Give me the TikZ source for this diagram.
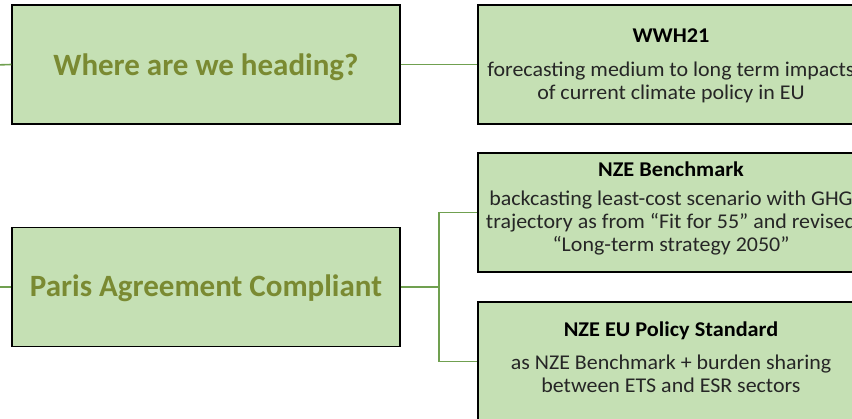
\documentclass[tikz,border=0pt]{standalone}
\usepackage{fontspec}
\setmainfont{Carlito}
\newfontfamily\wideface[FakeStretch=1.045]{Carlito}
\newfontfamily\widebold[FakeStretch=1.06]{Carlito Bold}
\definecolor{boxfill}{RGB}{197,224,180}
\definecolor{olive}{RGB}{122,138,50}
\definecolor{conn}{RGB}{112,160,80}
\tikzset{
  box/.style={draw=black, line width=1.4pt, fill=boxfill, inner sep=0pt},
  bigtitle/.style={font=\fontsize{31}{35}\selectfont\bfseries, text=olive, anchor=base, inner sep=0pt},
  subtitle/.style={font=\widebold\fontsize{21}{24}\selectfont, anchor=base, inner sep=0pt},
  body/.style={font=\wideface\fontsize{21}{24}\selectfont, anchor=base, inner sep=0pt, text=black!85},
  link/.style={draw=conn, line width=1.6pt}
}
\begin{document}
\begin{tikzpicture}[x=1pt,y=-1pt]
\useasboundingbox (0,0) rectangle (852,419);
\begin{scope}
\clip (0,0) rectangle (852,419);
% boxes
\node[box, minimum width=388pt, minimum height=119pt] (where) at (206,64.5) {};
\node[box, minimum width=388pt, minimum height=119pt] (wwh) at (672,64.5) {};
\node[box, minimum width=388pt, minimum height=119pt] (paris) at (206,287) {};
\node[box, minimum width=388pt, minimum height=119pt] (bench) at (672,212.5) {};
\node[box, minimum width=388pt, minimum height=119pt] (policy) at (672,361.5) {};
% connectors
\coordinate (lw) at (-5,65);
\coordinate (lp) at (-5,287);
\draw[link] (lw) -- (where.west);
\draw[link] (where.east) -- (wwh.west);
\draw[link] (lp) -- (paris.west);
\coordinate (fork) at (439,287);
\draw[link] (paris.east) -- (fork);
\draw[link] (fork) |- (bench.west);
\draw[link] (fork) |- (policy.west);
% texts
\node[bigtitle] (t1) at (206,76) {Where are we heading?};
\node[bigtitle] (t2) at (206,297) {Paris Agreement Compliant};
\node[subtitle] (w1) at (671,43) {WWH21};
\node[body] (w2) at (671,77) {forecasting medium to long term impacts};
\node[body] (w3) at (671,100) {of current climate policy in EU};
\node[subtitle] (b1) at (671,177) {NZE Benchmark};
\node[body] (b2) at (671,206) {backcasting least-cost scenario with GHG};
\node[body] (b3) at (671,229) {trajectory as from “Fit for 55” and revised};
\node[body] (b4) at (671,252) {“Long-term strategy 2050”};
\node[subtitle] (p1) at (671,337) {NZE EU Policy Standard};
\node[body] (p2) at (671,370) {as NZE Benchmark + burden sharing};
\node[body] (p3) at (671,393) {between ETS and ESR sectors};
\end{scope}
\end{tikzpicture}
\end{document}
